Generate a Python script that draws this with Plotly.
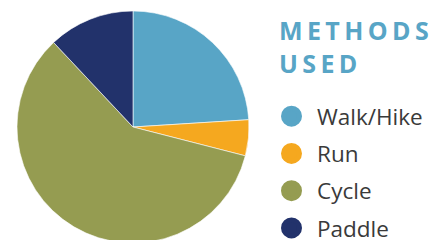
import plotly.graph_objects as go

categories = ["Walk/Hike", "Run", "Cycle", "Paddle"]
values = [24, 5, 59, 12]
colors = ["#58A5C6", "#F5A81F", "#959C51", "#22326B"]
legend_title = "METHODS<br>USED"

W, H = 432, 244
T, B = 11, 1
PH = H - T - B

fig = go.Figure()
fig.add_trace(go.Pie(
    labels=categories, values=values, sort=False, direction="clockwise",
    rotation=0, marker=dict(colors=colors, line=dict(color="#ffffff", width=0.6)),
    textinfo="none", hoverinfo="label+percent", showlegend=False,
    domain=dict(x=[17 / W, 249 / W], y=[0, 1]),
))
for c, col in zip(categories, colors):
    fig.add_trace(go.Scatter(
        x=[None], y=[None], mode="markers", name=c, legendgroup=c,
        marker=dict(color=col, size=16, line=dict(color=col, width=5)),
    ))

span = '<span style="letter-spacing:4.4px">'
title_html = span + legend_title.replace("<br>", "</span><br>" + span) + "</span>"

fig.update_layout(
    width=W, height=H,
    margin=dict(l=0, r=0, t=T, b=B, autoexpand=False),
    paper_bgcolor="white", plot_bgcolor="white",
    xaxis=dict(visible=False), yaxis=dict(visible=False),
    showlegend=True,
    legend=dict(
        x=266 / W, y=148 / PH, xanchor="left", yanchor="top",
        font=dict(family="Open Sans", size=22.5, color="#3a3a3a"),
        tracegroupgap=5, itemwidth=41, bgcolor="rgba(0,0,0,0)",
    ),
    annotations=[dict(
        text=title_html,
        x=277 / W, y=1 - 0.2 / PH, xref="paper", yref="paper",
        xanchor="left", yanchor="top", align="left", showarrow=False,
        font=dict(family="Open Sans", size=25, color="#58A5C6", weight="bold"),
    )],
)

fig.write_html(
    "out.html",
    config={"displayModeBar": False},
    post_script="document.documentElement.style.overflow='hidden';document.body.style.overflow='hidden';document.body.style.margin='0';",
)
